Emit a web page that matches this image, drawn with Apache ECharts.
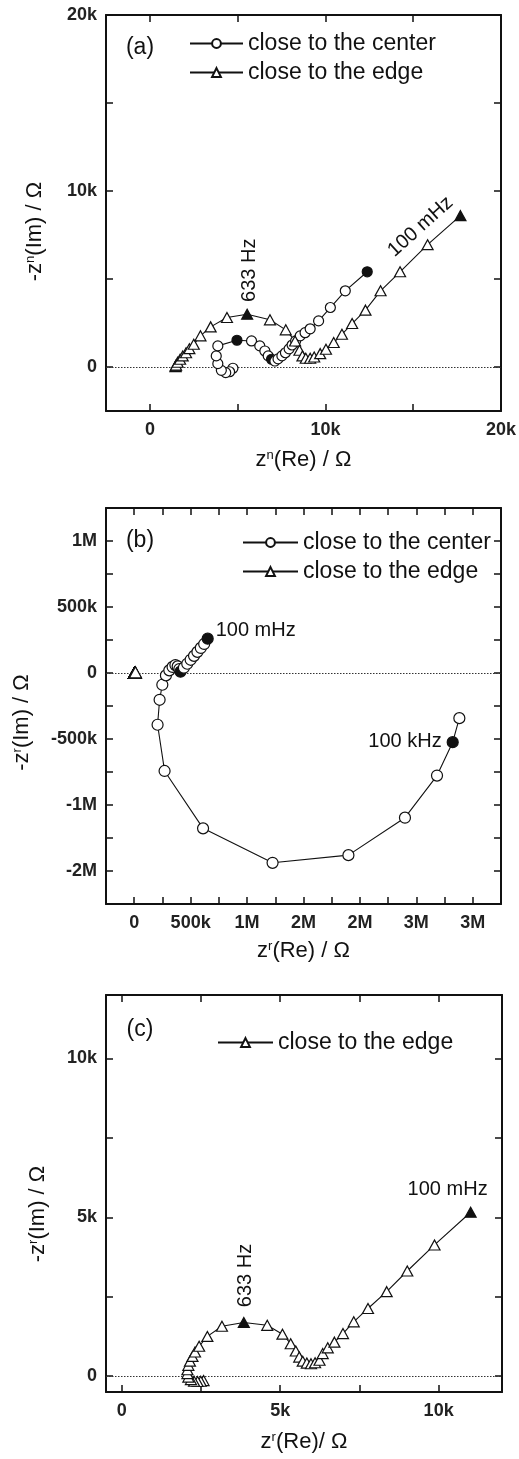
<!DOCTYPE html>
<html>
<head>
<meta charset="utf-8">
<script src="https://cdn.jsdelivr.net/npm/echarts@6/dist/echarts.min.js"></script>
<style>
  html, body { margin: 0; padding: 0; background: #fff; }
  #chart { width: 519px; height: 1459px; }
</style>
</head>
<body>
<div id="chart"></div>
<script>
// ---------- (a) impedance, Ω ----------
const aCenterRe = [4730, 4540, 4320, 4070, 3870, 3780, 3870, 4960, 5790, 6260, 6550, 6740, 6930, 7120, 7300, 7520, 7720, 7930, 8100, 8300, 8560, 8840, 9130, 9610, 10280, 11130, 12380];
const aCenterIm = [-70, -270, -320, -190, 190, 630, 1200, 1520, 1480, 1200, 910, 630, 440, 340, 460, 630, 810, 1030, 1250, 1480, 1770, 1950, 2170, 2620, 3380, 4330, 5410];
const aCenterMarked = [7, 12, 26];

const aEdgeRe = [1460, 1470, 1490, 1580, 1720, 1870, 2060, 2250, 2500, 2880, 3460, 4390, 5540, 6840, 7740, 8270, 8520, 8690, 8880, 9130, 9360, 9700, 10030, 10470, 10940, 11520, 12280, 13140, 14250, 15820, 17690];
const aEdgeIm = [20, 60, 110, 270, 440, 630, 810, 1040, 1290, 1770, 2280, 2810, 3000, 2680, 2110, 1480, 950, 630, 500, 500, 570, 760, 1010, 1390, 1860, 2470, 3230, 4330, 5410, 6950, 8600];
const aEdgeMarked = [12, 30];
const aEdgeNotePoints = [12, 30];
const aEdgeNoteTexts = ['633 Hz', '100 mHz'];

const aXTicks = [0, 5000, 10000, 15000, 20000];
const aXLabelValues = [0, 10000, 20000];
const aXLabelTexts = ['0', '10k', '20k'];
const aYTicks = [0, 5000, 10000, 15000, 20000];
const aYLabelValues = [0, 10000, 20000];
const aYLabelTexts = ['0', '10k', '20k'];

// ---------- (b) impedance, Ω ----------
const bCenterRe = [2881000, 2822000, 2683000, 2399000, 1898000, 1226000, 610000, 269000, 207000, 225000, 249000, 281000, 311000, 340000, 365000, 385000, 400000, 410000, 440000, 470000, 500000, 530000, 560000, 590000, 620000, 651000];
const bCenterIm = [-342000, -524000, -777000, -1096000, -1380000, -1438000, -1177000, -742000, -392000, -203000, -89000, -18000, 20000, 46000, 60000, 50000, 30000, 10000, 40000, 70000, 100000, 130000, 160000, 190000, 220000, 260000];
const bCenterMarked = [1, 17, 25];
const bCenterNotePoints = [25, 1];
const bCenterNoteTexts = ['100 mHz', '100 kHz'];

const bXTicks = [0, 250000, 500000, 750000, 1000000, 1250000, 1500000, 1750000, 2000000, 2250000, 2500000, 2750000, 3000000];
const bXLabelValues = [0, 500000, 1000000, 1500000, 2000000, 2500000, 3000000];
const bXLabelTexts = ['0', '500k', '1M', '2M', '2M', '3M', '3M'];
const bYTicks = [-1500000, -1250000, -1000000, -750000, -500000, -250000, 0, 250000, 500000, 750000, 1000000];
const bYLabelValues = [1000000, 500000, 0, -500000, -1000000, -1500000];
const bYLabelTexts = ['1M', '500k', '0', '-500k', '-1M', '-2M'];

// ---------- (c) impedance, Ω (also the edge trace in (b)) ----------
const cEdgeRe = [2580, 2490, 2390, 2280, 2180, 2100, 2070, 2070, 2100, 2150, 2230, 2310, 2440, 2700, 3160, 3850, 4590, 5070, 5330, 5490, 5600, 5710, 5840, 5970, 6100, 6240, 6340, 6500, 6710, 6980, 7320, 7770, 8360, 9010, 9870, 11010];
const cEdgeIm = [-140, -160, -170, -160, -110, -30, 80, 200, 340, 470, 620, 760, 940, 1250, 1570, 1690, 1600, 1320, 1020, 790, 600, 470, 410, 390, 420, 500, 710, 890, 1070, 1340, 1710, 2130, 2660, 3310, 4130, 5160];
const cEdgeMarked = [15, 35];
const cEdgeNotePoints = [15, 35];
const cEdgeNoteTexts = ['633 Hz', '100 mHz'];

const cXTicks = [0, 2500, 5000, 7500, 10000];
const cXLabelValues = [0, 5000, 10000];
const cXLabelTexts = ['0', '5k', '10k'];
const cYTicks = [0, 2500, 5000, 7500, 10000];
const cYLabelValues = [0, 5000, 10000];
const cYLabelTexts = ['0', '5k', '10k'];

const SERIES_CENTER = 'close to the center';
const SERIES_EDGE = 'close to the edge';

// ---------- styling ----------
const FONT = '"Liberation Sans", Arial, Helvetica, sans-serif';
const INK = '#111111';

const grids = [
  { left: 106, top: 15, width: 395, height: 396 },
  { left: 106, top: 508, width: 395, height: 396 },
  { left: 106, top: 995, width: 396, height: 397 }
];

function points(re, im, marked) {
  return re.map((x, i) => marked.includes(i)
    ? { value: [x, im[i]], itemStyle: { color: INK, borderColor: INK } }
    : [x, im[i]]);
}

function labelFormatter(values, texts) {
  return v => {
    const i = values.indexOf(v);
    return i < 0 ? '' : texts[i];
  };
}

const supRich = {
  s: { fontSize: 13, fontFamily: FONT, color: INK, verticalAlign: 'top', lineHeight: 14 }
};

function axisPair(dim, gridIndex, min, max, ticks, labelValues, labelTexts, name, nameGap, namePad) {
  const common = {
    type: 'value', gridIndex, min, max,
    splitLine: { show: false },
    axisLine: { show: true, onZero: false, lineStyle: { color: INK, width: 2 } },
    axisTick: { show: true, inside: true, length: 7, customValues: ticks, lineStyle: { color: INK, width: 1.5 } }
  };
  const main = Object.assign({}, common, {
    position: dim === 'x' ? 'bottom' : 'left',
    axisLabel: {
      show: true, customValues: labelValues, formatter: labelFormatter(labelValues, labelTexts),
      margin: dim === 'x' ? 10 : 9, fontSize: 18, fontWeight: 'bold', color: '#222', fontFamily: FONT
    },
    name, nameLocation: 'middle', nameGap,
    nameTextStyle: { fontSize: 22, color: INK, fontFamily: FONT, padding: namePad, rich: supRich }
  });
  const mirror = Object.assign({}, common, {
    position: dim === 'x' ? 'top' : 'right',
    axisLabel: { show: false }
  });
  return [main, mirror];
}

const xAxis = [
  ...axisPair('x', 0, -2500, 20000, aXTicks, aXLabelValues, aXLabelTexts, 'z{s|n}(Re) / Ω', 38, 0),
  ...axisPair('x', 1, -250000, 3250000, bXTicks, bXLabelValues, bXLabelTexts, 'z{s|r}(Re) / Ω', 36, 0),
  ...axisPair('x', 2, -500, 12000, cXTicks, cXLabelValues, cXLabelTexts, 'z{s|r}(Re)/ Ω', 39, 0)
];
const yAxis = [
  ...axisPair('y', 0, -2500, 20000, aYTicks, aYLabelValues, aYLabelTexts, '-z{s|n}(Im) / Ω', 60, [0, 37, 0, 0]),
  ...axisPair('y', 1, -1750000, 1250000, bYTicks, bYLabelValues, bYLabelTexts, '-z{s|r}(Im) / Ω', 73, [0, 33, 0, 0]),
  ...axisPair('y', 2, -500, 12000, cYTicks, cYLabelValues, cYLabelTexts, '-z{s|r}(Im) / Ω', 57, [0, 41, 0, 0])
];

function traceSeries(name, axisIndex, data, symbol, symbolSize, withZeroLine) {
  const s = {
    type: 'line', name, xAxisIndex: axisIndex * 2, yAxisIndex: axisIndex * 2,
    data, symbol, symbolSize, showAllSymbol: true, smooth: false,
    lineStyle: { color: INK, width: 1.1 },
    itemStyle: { color: '#ffffff', borderColor: INK, borderWidth: 1.2 },
    emphasis: { disabled: true },
    z: 3
  };
  if (withZeroLine) {
    s.markLine = {
      silent: true, symbol: ['none', 'none'], label: { show: false },
      lineStyle: { type: [1.5, 1.5], color: '#333', width: 1 },
      data: [{ yAxis: 0 }], z: 1
    };
  }
  return s;
}

const series = [
  traceSeries(SERIES_CENTER, 0, points(aCenterRe, aCenterIm, aCenterMarked), 'circle', 10, true),
  traceSeries(SERIES_EDGE, 0, points(aEdgeRe, aEdgeIm, aEdgeMarked), 'triangle', [11, 10], false),
  traceSeries(SERIES_CENTER, 1, points(bCenterRe, bCenterIm, bCenterMarked), 'circle', 11, true),
  traceSeries(SERIES_EDGE, 1, points(cEdgeRe, cEdgeIm, []), 'triangle', [12, 11], false),
  traceSeries(SERIES_EDGE, 2, points(cEdgeRe, cEdgeIm, cEdgeMarked), 'triangle', [11, 10], true)
];

function legend(left, top, itemWidth, names) {
  return {
    left, top, orient: 'vertical', itemWidth, itemHeight: 11, itemGap: 6,
    data: names, selectedMode: false,
    textStyle: { fontSize: 23, color: INK, fontFamily: FONT, lineHeight: 23 }
  };
}

const chart = echarts.init(document.getElementById('chart'), null, { renderer: 'canvas' });
chart.setOption({
  animation: false,
  backgroundColor: '#ffffff',
  grid: grids.map(g => Object.assign({ outerBoundsMode: 'none', containLabel: false }, g)),
  xAxis, yAxis, series,
  legend: [
    legend(184, 27, 53, [SERIES_CENTER, SERIES_EDGE]),
    legend(237, 526, 55, [SERIES_CENTER, SERIES_EDGE]),
    legend(212, 1026, 55, [SERIES_EDGE])
  ]
});

// frequency annotations, anchored on the marked points
const noteStyle = {
  '0': { '633 Hz': { dx: 2, dy: -44, rot: 90, align: 'center' }, '100 mHz': { dx: -40, dy: 11, rot: 42, align: 'center' } },
  '1': { '100 mHz': { dx: 8, dy: -8, rot: 0, align: 'left' }, '100 kHz': { dx: -11, dy: -1, rot: 0, align: 'right' } },
  '2': { '633 Hz': { dx: 2, dy: -47, rot: 90, align: 'center' }, '100 mHz': { dx: -23, dy: -23, rot: 0, align: 'center' } }
};
const noteSets = [
  { panel: 0, seriesIndex: 1, re: aEdgeRe, im: aEdgeIm, idx: aEdgeNotePoints, texts: aEdgeNoteTexts },
  { panel: 1, seriesIndex: 2, re: bCenterRe, im: bCenterIm, idx: bCenterNotePoints, texts: bCenterNoteTexts },
  { panel: 2, seriesIndex: 4, re: cEdgeRe, im: cEdgeIm, idx: cEdgeNotePoints, texts: cEdgeNoteTexts }
];

const graphic = [];
noteSets.forEach(set => {
  set.idx.forEach((pi, k) => {
    const text = set.texts[k];
    const st = noteStyle[set.panel][text];
    const p = chart.convertToPixel({ seriesIndex: set.seriesIndex }, [set.re[pi], set.im[pi]]);
    graphic.push({
      type: 'text', x: p[0] + st.dx, y: p[1] + st.dy, rotation: st.rot * Math.PI / 180,
      silent: true, z: 10,
      style: { text, font: '20px ' + FONT, fill: INK, align: st.align, verticalAlign: 'middle' }
    });
  });
});

// panel letters
[['(a)', 140, 48], ['(b)', 140, 541], ['(c)', 140, 1030]].forEach(([t, x, y]) => {
  graphic.push({
    type: 'text', x, y, silent: true, z: 10,
    style: { text: t, font: '23px ' + FONT, fill: INK, align: 'center', verticalAlign: 'middle' }
  });
});

chart.setOption({ graphic });
</script>
</body>
</html>
